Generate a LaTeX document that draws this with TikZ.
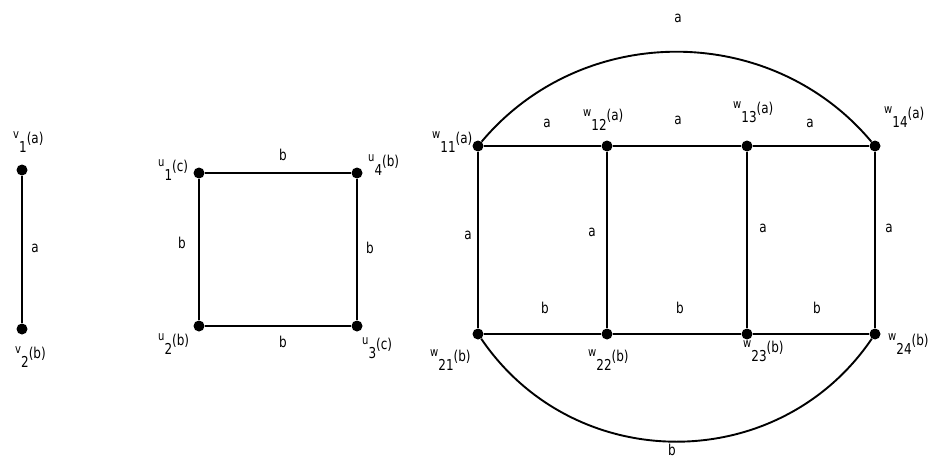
\documentclass[tikz,border=0pt]{standalone}
\usepackage{fontspec}
\setmainfont{DejaVu Sans}[FakeStretch=0.8]
\newcommand{\vlab}[3]{\raisebox{0.3em}{\fontsize{12.5}{12}\selectfont #1}\raisebox{-0.6em}{#2}(#3)}
\begin{document}
\begin{tikzpicture}[x=1pt,y=1pt,
  dot/.style={circle,fill=black,inner sep=0pt,minimum size=11pt},
  edge/.style={line width=1.9pt,black},
  vlabel/.style={anchor=base west,inner sep=0pt,font=\fontsize{15}{15}\selectfont},
  elabel/.style={inner sep=0pt,font=\fontsize{15}{15}\selectfont}]
\useasboundingbox[fill=white] (0,0) rectangle (929,459);
% graph 1
\node[dot] (v1) at (22,289) {};
\node[dot] (v2) at (22,130) {};
\draw[edge] (v1) -- (v2);
\node[vlabel] (lv1) at (13,316) {\vlab{v}{1}{a}};
\node[vlabel] (lv2) at (15,101) {\vlab{v}{2}{b}};
\node[elabel] (ev) at (35,211) {a};
% graph 2
\node[dot] (u1) at (199,286) {};
\node[dot] (u4) at (357,286) {};
\node[dot] (u2) at (199,133) {};
\node[dot] (u3) at (357,133) {};
\draw[edge] (u1) -- (u4) -- (u3) -- (u2) -- (u1);
\node[vlabel] (lu1) at (158,288) {\vlab{u}{1}{c}};
\node[vlabel] (lu4) at (368,293) {\vlab{u}{4}{b}};
\node[vlabel] (lu2) at (158,114) {\vlab{u}{2}{b}};
\node[vlabel] (lu3) at (362,110) {\vlab{u}{3}{c}};
\node[elabel] (eu14) at (283,304) {b};
\node[elabel] (eu12) at (182,216) {b};
\node[elabel] (eu43) at (370,211) {b};
\node[elabel] (eu23) at (283,117) {b};
% graph 3
\node[dot] (w11) at (478,313) {};
\node[dot] (w12) at (607,313) {};
\node[dot] (w13) at (747,313) {};
\node[dot] (w14) at (875,313) {};
\node[dot] (w21) at (478,125) {};
\node[dot] (w22) at (607,125) {};
\node[dot] (w23) at (747,125) {};
\node[dot] (w24) at (875,125) {};
\draw[edge] (w11) -- (w12) -- (w13) -- (w14);
\draw[edge] (w21) -- (w22) -- (w23) -- (w24);
\draw[edge] (w11) -- (w21);
\draw[edge] (w12) -- (w22);
\draw[edge] (w13) -- (w23);
\draw[edge] (w14) -- (w24);
\draw[edge] (w11) to[bend left=50,looseness=1.03] (w14);
\draw[edge] (w21) to[bend right=55.8,looseness=1.09] (w24);
\node[vlabel] (lw11) at (432,316) {\vlab{w}{11}{a}};
\node[vlabel] (lw12) at (583,338) {\vlab{w}{12}{a}};
\node[vlabel] (lw13) at (733,346) {\vlab{w}{13}{a}};
\node[vlabel] (lw14) at (884,341) {\vlab{w}{14}{a}};
\node[vlabel] (lw21) at (430,98) {\vlab{w}{21}{b}};
\node[vlabel] (lw22) at (588,98) {\vlab{w}{22}{b}};
\node[vlabel] (lw23) at (743,107) {\vlab{w}{23}{b}};
\node[vlabel] (lw24) at (888,114) {\vlab{w}{24}{b}};
\node[elabel] (etop) at (678,441) {a};
\node[elabel] (e1112) at (547,336) {a};
\node[elabel] (e1213) at (678,339) {a};
\node[elabel] (e1314) at (810,336) {a};
\node[elabel] (e1121) at (468,224) {a};
\node[elabel] (e1222) at (592,227) {a};
\node[elabel] (e1323) at (763,231) {a};
\node[elabel] (e1424) at (889,231) {a};
\node[elabel] (e2122) at (545,151) {b};
\node[elabel] (e2223) at (680,151) {b};
\node[elabel] (e2324) at (817,151) {b};
\node[elabel,anchor=base] (ebot) at (672,4) {b};
\end{tikzpicture}
\end{document}
